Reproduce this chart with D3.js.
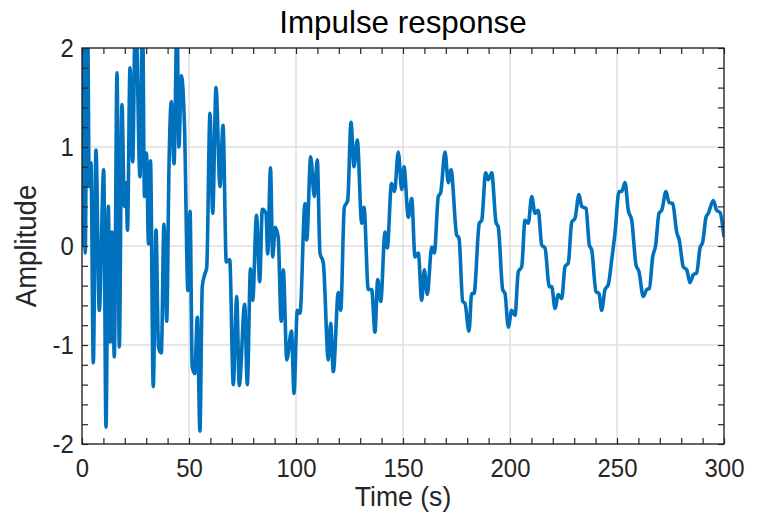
<!DOCTYPE html>
<html>
<head>
	<meta charset="utf-8" />
	<title>Impulse response</title>
	<script src="https://cdnjs.cloudflare.com/ajax/libs/d3/7.8.5/d3.min.js"></script>
	<style>
		html, body { margin: 0; background: #fff; }
		svg { display: block; font-family: "Liberation Sans", Arial, sans-serif; }
		.ax path, .ax line { stroke: #262626; }
		.ax text { fill: #262626; }
	</style>
</head>
<body>
<div id="chart"></div>
<script>
// impulse response (seconds, amplitude)
var timeS = [0, 0.7, 1.5, 2.5, 3.4, 4.2, 5.28, 6.54, 8.08, 10.14, 11.21, 12.29, 13.22, 14.02, 15.09,
	16.36, 17.43, 18.69, 19.77, 20.56, 21.26, 22.43, 23.69, 25.0, 27.1, 28.27, 29.2, 30.14, 31.07,
	32.0, 33.3, 34.58, 35.75, 37.06, 38.3, 39.58, 40.65, 41.73, 43.0, 44.4, 45.3, 46.4, 47.9, 49.5,
	50.5, 51.5, 52.7, 53.9, 55.1, 56.2, 57.3, 58.27, 59.81, 61.07, 62.62, 64.49, 65.89, 67.43, 69.02,
	70.7, 72.29, 73.5, 76.0, 77.24, 78.74, 79.77, 81.54, 83.04, 84.25, 85.98, 86.78, 88.08, 89.11,
	90.28, 91.68, 93.08, 94.07, 95.7, 97.9, 99.07, 100.6, 101.87, 104.2, 105.0, 106.87, 108.55,
	109.95, 111.2, 112.76, 115.1, 116.2, 117.43, 119.77, 120.9, 122.57, 124.16, 125.7, 127.1,
	128.64, 130.7, 131.78, 133.78, 135.37, 136.9, 138.18, 139.58, 141.6, 142.66, 144.63, 146.03,
	147.8, 149.39, 150.47, 152.48, 154.07, 155.6, 157.15, 158.74, 159.95, 161.36, 163.41, 164.63,
	166.5, 167.62, 169.63, 171.17, 172.43, 175.09, 176.17, 177.9, 178.97, 180.84, 182.1, 183.18,
	185.65, 186.78, 188.64, 189.86, 191.45, 193.46, 194.53, 196.59, 197.66, 199.21, 200.79, 202.34,
	203.88, 205.47, 207.01, 208.55, 210.14, 211.68, 213.22, 214.81, 216.36, 218.36, 219.49, 221.03,
	222.57, 224.16, 225.7, 227.24, 228.83, 230.37, 232.24, 233.5, 235.51, 237.06, 238.18, 240.19,
	241.59, 242.85, 244.39, 245.93, 247.52, 249.07, 250.93, 252.2, 253.74, 255.28, 256.87, 258.88,
	260.28, 262.29, 263.88, 265.1, 266.68, 268.08, 269.63, 270.89, 272.9, 274.3, 276.03, 277.9,
	279.11, 280.98, 282.57, 284.11, 285.65, 287.24, 288.79, 290.05, 291.59, 292.66, 295.0, 296.59,
	298.13, 300];
var amplitude = [0, 2.8, -0.07, 2.6, 0.6, 0.84, -1.18, 0.97, -0.65, 0.77, -1.83, 0.40, -0.97, 0.14, -1.12,
	1.75, -1.02, 1.43, 0.40, 0.64, 0.16, 1.80, 0.85, 2.5, 0.70, 2.4, 0.50, 0.94, 0.02,
	0.86, -1.42, 0.16, -1.02, -1.08, 0.22, -0.76, 0.80, 1.46, 0.83, 2.3, 1.0, 1.72, 1.21, -0.45,
	0.35, -1.22, -1.29, -0.72, -1.87, -0.41, -0.29, -0.22, 1.34, 0.33, 1.60, 0.60, 1.22, -0.16, -0.14,
	-1.40, -0.51, -1.41, -0.59, -1.40, -0.23, -0.55, 0.31, -0.36, 0.37, 0.33, -0.08, 0.79, -0.11,
	0.19, 0.09, -0.76, -0.24, -1.15, -0.86, -1.49, -0.65, -0.68, 0.43, 0.06, 0.90, 0.50,
	0.87, -0.07, -0.17, -1.15, -0.78, -1.27, -0.47, -0.65, 0.39, 0.46, 1.25, 0.80,
	1.07, 0.23, 0.39, -0.44, -0.44, -0.87, -0.34, -0.56, 0.14, -0.02, 0.63, 0.55,
	0.95, 0.57, 0.80, 0.29, 0.48, -0.11, -0.07, -0.55, -0.24, -0.49, -0.01, -0.07,
	0.50, 0.54, 0.95, 0.64, 0.77, 0.11, 0.08, -0.56, -0.58, -0.86, -0.48, -0.48,
	0.23, 0.26, 0.74, 0.67, 0.74, 0.24, 0.19, -0.44, -0.48, -0.82, -0.65, -0.70,
	-0.26, -0.21, 0.26, 0.23, 0.50, 0.33, 0.36, 0.01, -0.02, -0.41, -0.41, -0.63,
	-0.49, -0.53, -0.21, -0.17, 0.24, 0.28, 0.52, 0.40, 0.38, 0.01, -0.04, -0.46,
	-0.48, -0.65, -0.44, -0.39, -0.14, 0.13, 0.55, 0.55, 0.64, 0.36, 0.26, -0.19,
	-0.26, -0.51, -0.44, -0.43, -0.11, 0.01, 0.33, 0.36, 0.55, 0.44, 0.43, 0.14,
	0.06, -0.21, -0.24, -0.37, -0.29, -0.27, -0.02, 0.04, 0.29, 0.33, 0.46, 0.36,
	0.34, 0.09];

var xTicks = [0, 50, 100, 150, 200, 250, 300];
var yTicks = [-2, -1, 0, 1, 2];
var xMinor = d3.range(0, 301, 10);
var yMinor = d3.range(-2, 2.001, 0.2);

var W = 760, H = 514;
var m = {left: 82, top: 48, right: 36, bottom: 70};
var w = W - m.left - m.right, h = H - m.top - m.bottom;

var svg = d3.select("#chart").append("svg").attr("width", W).attr("height", H);
var g = svg.append("g").attr("transform", "translate(" + m.left + "," + m.top + ")");

var x = d3.scaleLinear().domain([0, 300]).range([0, w]);
var y = d3.scaleLinear().domain([-2, 2]).range([h, 0]);

// grid
g.append("g").selectAll("line").data(xTicks.slice(1, -1)).enter().append("line")
	.attr("x1", x).attr("x2", x).attr("y1", 0).attr("y2", h)
	.attr("stroke", "#dfdfdf").attr("stroke-width", 1.5);
g.append("g").selectAll("line").data(yTicks.slice(1, -1)).enter().append("line")
	.attr("y1", y).attr("y2", y).attr("x1", 0).attr("x2", w)
	.attr("stroke", "#dfdfdf").attr("stroke-width", 1.5);

// line
svg.append("clipPath").attr("id", "clip").append("rect").attr("width", w).attr("height", h);
var pts = timeS.map(function(t, i) { return [t, amplitude[i]]; });
var line = d3.line().x(function(d) { return x(d[0]); }).y(function(d) { return y(d[1]); })
	.curve(d3.curveMonotoneX);
g.append("path").datum(pts).attr("clip-path", "url(#clip)")
	.attr("d", line).attr("fill", "none").attr("stroke", "#0072BD")
	.attr("stroke-width", 3.6).attr("stroke-linejoin", "round");

// ticks: inward, all four sides
var tl = 6;
function minorAxis(axis, scale, vals, tr) {
	g.append("g").attr("class", "ax").attr("transform", tr)
		.call(axis(scale).tickValues(vals).tickSize(-tl).tickFormat(""))
		.call(function(s) { s.select(".domain").remove(); s.selectAll("line").attr("stroke-width", 1.2); });
}
minorAxis(d3.axisBottom, x, xMinor, "translate(0," + h + ")");
minorAxis(d3.axisTop, x, xMinor, "translate(0,0)");
minorAxis(d3.axisLeft, y, yMinor, "translate(0,0)");
minorAxis(d3.axisRight, y, yMinor, "translate(" + w + ",0)");

var fs = 26;
var xa = g.append("g").attr("class", "ax").attr("transform", "translate(0," + h + ")")
	.call(d3.axisBottom(x).tickValues(xTicks).tickSize(0));
xa.select(".domain").remove();
xa.selectAll("text").attr("font-size", fs).attr("font-family", "Liberation Sans, Arial, sans-serif")
	.attr("y", 33).attr("dy", 0).attr("transform", "scale(0.92,1)");

var ya = g.append("g").attr("class", "ax")
	.call(d3.axisLeft(y).tickValues(yTicks).tickSize(0).tickPadding(9).tickFormat(function(d) { return String(d); }));
ya.select(".domain").remove();
ya.selectAll("text").attr("font-size", fs).attr("font-family", "Liberation Sans, Arial, sans-serif")
	.attr("transform", "scale(0.92,1)");

// box
g.append("rect").attr("width", w).attr("height", h).attr("fill", "none")
	.attr("stroke", "#262626").attr("stroke-width", 1.4);

// labels
svg.append("text").attr("transform", "translate(" + (m.left + w / 2) + ",33) scale(0.98,1)")
	.attr("text-anchor", "middle").attr("font-size", 32).attr("fill", "#000").text("Impulse response");
svg.append("text").attr("transform", "translate(" + (m.left + w / 2) + ",506) scale(0.95,1)")
	.attr("text-anchor", "middle").attr("font-size", 28).attr("fill", "#262626").text("Time (s)");
svg.append("text").attr("transform", "translate(36," + (m.top + h / 2) + ") rotate(-90) scale(0.95,1)")
	.attr("text-anchor", "middle").attr("font-size", 29).attr("fill", "#262626").text("Amplitude");
</script>
</body>
</html>
